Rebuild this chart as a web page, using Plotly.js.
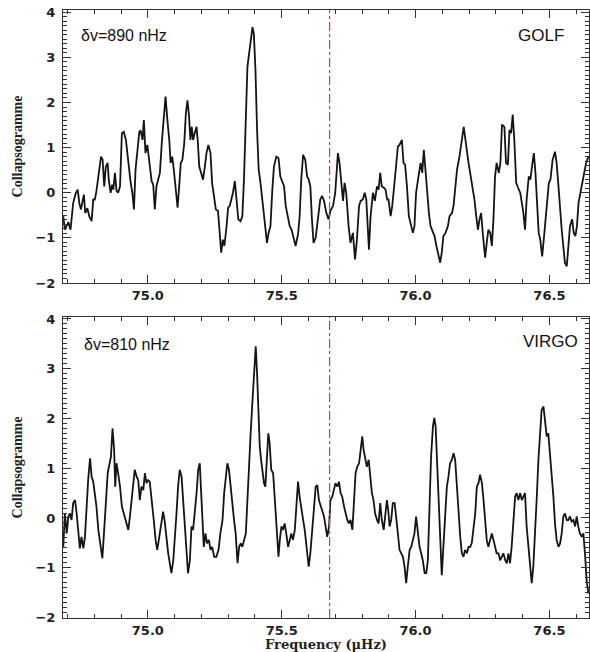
<!DOCTYPE html>
<html>
<head>
<meta charset="utf-8">
<script src="https://cdn.plot.ly/plotly-3.0.1.min.js"></script>
<style>html,body{margin:0;padding:0;background:#fff;}#chart{width:590px;height:652px;}</style>
</head>
<body>
<div id="chart"></div>
<script>
// ---- data ----
const golfFreq = [74.684,74.690,74.703,74.711,74.721,74.731,74.738,74.744,74.750,74.756,74.761,74.766,74.774,74.781,74.790,74.796,74.802,74.808,74.816,74.825,74.831,74.837,74.843,74.850,74.854,74.861,74.867,74.871,74.877,74.883,74.889,74.896,74.903,74.910,74.918,74.927,74.935,74.942,74.948,74.954,74.960,74.968,74.973,74.980,74.985,74.991,74.998,75.005,75.014,75.020,75.026,75.032,75.039,75.045,75.052,75.060,75.066,75.073,75.080,75.085,75.091,75.097,75.104,75.111,75.117,75.123,75.129,75.136,75.142,75.148,75.154,75.159,75.164,75.169,75.175,75.182,75.187,75.192,75.199,75.206,75.213,75.219,75.226,75.234,75.240,75.246,75.254,75.262,75.269,75.274,75.280,75.286,75.294,75.300,75.306,75.313,75.318,75.325,75.331,75.338,75.346,75.353,75.359,75.366,75.372,75.378,75.386,75.391,75.396,75.402,75.408,75.414,75.420,75.427,75.433,75.439,75.445,75.451,75.458,75.465,75.471,75.480,75.488,75.495,75.502,75.509,75.515,75.524,75.530,75.537,75.552,75.561,75.567,75.573,75.580,75.588,75.595,75.601,75.607,75.613,75.619,75.627,75.636,75.644,75.651,75.658,75.667,75.675,75.682,75.692,75.700,75.710,75.716,75.723,75.729,75.735,75.741,75.750,75.757,75.766,75.774,75.781,75.789,75.795,75.803,75.810,75.816,75.826,75.832,75.841,75.848,75.856,75.862,75.868,75.874,75.882,75.888,75.894,75.899,75.907,75.913,75.922,75.928,75.934,75.940,75.949,75.955,75.961,75.968,75.975,75.984,75.990,75.996,76.002,76.011,76.019,76.025,76.031,76.037,76.044,76.050,76.056,76.062,76.071,76.078,76.086,76.092,76.098,76.104,76.112,76.121,76.127,76.136,76.142,76.149,76.155,76.164,76.173,76.180,76.185,76.192,76.198,76.204,76.211,76.220,76.226,76.233,76.239,76.245,76.251,76.260,76.266,76.272,76.279,76.285,76.291,76.297,76.303,76.311,76.317,76.323,76.332,76.338,76.345,76.351,76.357,76.363,76.369,76.376,76.383,76.391,76.397,76.403,76.409,76.415,76.423,76.429,76.435,76.442,76.448,76.454,76.460,76.466,76.473,76.479,76.485,76.491,76.498,76.504,76.512,76.521,76.527,76.534,76.540,76.546,76.552,76.558,76.565,76.571,76.577,76.585,76.591,76.597,76.603,76.609,76.616,76.622,76.631,76.637,76.646];
const golfValue = [-0.52,-0.82,-0.65,-0.82,-0.23,0.00,0.07,-0.23,-0.37,-0.18,-0.04,-0.45,-0.34,-0.52,-0.63,-0.15,-0.15,0.04,0.44,0.80,0.73,0.14,0.58,0.66,0.29,0.00,0.18,0.07,0.44,0.04,0.00,0.14,1.32,1.35,1.17,0.66,0.26,0.00,-0.37,0.51,0.88,1.35,1.38,1.17,1.61,0.88,1.06,0.73,0.26,0.18,-0.37,0.14,0.29,0.44,1.10,1.68,2.13,1.61,1.17,0.66,0.80,0.51,0.14,-0.33,0.14,0.66,0.73,1.10,1.76,2.05,1.68,1.17,1.46,1.17,1.32,1.46,1.10,0.58,0.44,0.29,0.58,0.88,1.06,0.88,0.22,-0.07,-0.37,-0.40,-0.89,-1.33,-1.04,-1.18,-0.74,-0.33,-0.29,-0.15,0.00,0.26,-0.15,-0.59,-0.63,-0.52,0.29,1.68,2.79,3.08,3.45,3.67,3.52,2.72,1.39,0.51,0.26,-0.15,-0.52,-0.89,-1.11,-0.89,-0.74,0.07,0.58,0.80,0.77,0.36,0.26,0.14,-0.29,-0.59,-0.74,-0.82,-1.18,-0.92,-0.52,0.29,0.84,0.73,0.36,0.29,0.14,-0.59,-1.11,-1.00,-0.59,-0.15,-0.07,-0.18,-0.45,-0.59,-0.40,-0.29,0.00,0.88,0.66,0.14,-0.18,0.22,0.00,-0.74,-1.11,-0.89,-1.48,-1.04,-0.29,-0.18,-0.15,0.00,-0.15,-1.26,-0.52,0.00,-0.18,0.14,0.07,0.44,0.14,0.11,0.07,-0.15,-0.15,-0.52,-0.29,0.26,0.66,1.02,1.06,1.17,0.66,0.62,0.14,-0.52,-0.74,-0.89,-0.74,0.00,0.36,0.66,0.44,0.95,0.51,-0.15,-0.45,-0.74,-0.82,-0.96,-1.18,-1.41,-1.55,-1.33,-0.96,-0.89,-0.74,-0.52,-0.45,-0.29,0.07,0.51,0.80,1.17,1.46,1.24,0.88,0.66,0.44,0.22,-0.15,-0.48,-0.82,-0.59,-0.45,-0.89,-1.44,-1.11,-0.82,-0.89,-1.18,-0.59,0.36,0.66,0.44,0.66,1.51,1.46,0.66,0.62,1.39,1.32,1.73,1.17,0.22,0.11,0.00,-0.22,-0.45,-0.82,-0.15,0.36,0.29,0.58,0.88,0.44,-0.22,-0.89,-1.04,-1.41,-1.04,-0.59,-0.29,0.22,0.29,0.73,0.91,0.66,0.14,-0.45,-0.82,-1.18,-1.55,-1.63,-1.11,-0.74,-0.59,-0.89,-0.96,-0.74,-0.22,0.00,0.22,0.44,0.66,0.80];

const virgoFreq = [74.684,74.690,74.697,74.703,74.709,74.715,74.721,74.728,74.734,74.740,74.746,74.752,74.759,74.765,74.771,74.777,74.784,74.790,74.796,74.802,74.808,74.815,74.821,74.830,74.836,74.843,74.850,74.856,74.862,74.868,74.874,74.878,74.883,74.889,74.896,74.903,74.910,74.918,74.927,74.933,74.939,74.945,74.951,74.958,74.964,74.970,74.976,74.983,74.989,74.995,75.001,75.007,75.015,75.022,75.029,75.035,75.041,75.049,75.057,75.063,75.070,75.076,75.082,75.088,75.095,75.101,75.107,75.113,75.119,75.126,75.132,75.138,75.144,75.150,75.157,75.163,75.169,75.175,75.182,75.188,75.194,75.198,75.203,75.209,75.215,75.221,75.228,75.234,75.240,75.248,75.256,75.264,75.271,75.279,75.285,75.291,75.297,75.303,75.310,75.316,75.322,75.328,75.335,75.341,75.347,75.353,75.359,75.366,75.372,75.378,75.384,75.391,75.397,75.403,75.408,75.413,75.418,75.423,75.428,75.434,75.439,75.444,75.450,75.455,75.461,75.468,75.474,75.480,75.488,75.493,75.499,75.505,75.511,75.517,75.524,75.536,75.542,75.549,75.555,75.561,75.567,75.573,75.580,75.586,75.592,75.601,75.607,75.613,75.619,75.627,75.633,75.639,75.646,75.652,75.658,75.664,75.670,75.677,75.682,75.689,75.695,75.701,75.708,75.714,75.720,75.726,75.733,75.739,75.745,75.751,75.757,75.764,75.770,75.776,75.782,75.789,75.795,75.801,75.806,75.812,75.818,75.825,75.831,75.837,75.843,75.849,75.856,75.862,75.868,75.874,75.881,75.887,75.893,75.898,75.903,75.909,75.915,75.922,75.928,75.934,75.940,75.947,75.953,75.959,75.965,75.971,75.978,75.984,75.990,75.996,76.002,76.009,76.015,76.021,76.027,76.034,76.040,76.046,76.052,76.058,76.065,76.070,76.075,76.081,76.087,76.093,76.098,76.104,76.111,76.117,76.123,76.129,76.136,76.142,76.148,76.154,76.160,76.167,76.173,76.179,76.185,76.192,76.198,76.204,76.210,76.216,76.223,76.229,76.235,76.241,76.248,76.254,76.260,76.266,76.272,76.279,76.285,76.291,76.297,76.303,76.310,76.316,76.322,76.328,76.335,76.341,76.347,76.353,76.359,76.366,76.372,76.378,76.384,76.391,76.397,76.403,76.409,76.415,76.422,76.428,76.434,76.440,76.447,76.453,76.459,76.465,76.471,76.478,76.484,76.490,76.496,76.502,76.509,76.515,76.521,76.527,76.534,76.540,76.546,76.552,76.558,76.565,76.571,76.577,76.583,76.590,76.596,76.602,76.608,76.614,76.621,76.627,76.633,76.639,76.646];
const virgoValue = [-0.58,0.09,-0.31,0.03,0.09,-0.04,0.30,0.36,0.09,-0.31,-0.61,-0.38,-0.61,-0.38,0.23,0.76,1.20,0.83,0.73,0.50,0.23,-0.24,-0.44,-0.81,-0.31,0.30,0.90,1.07,1.23,1.80,1.37,0.63,1.10,0.90,0.63,0.23,0.09,-0.04,-0.24,0.03,0.36,0.63,0.97,0.83,0.76,0.36,0.63,0.56,0.90,0.70,0.76,0.73,0.36,-0.04,-0.44,-0.64,-0.44,-0.17,0.13,-0.07,-0.44,-0.71,-0.91,-1.11,-0.85,-0.44,0.09,0.63,0.97,0.83,0.36,-0.17,-0.78,-1.11,-0.85,-0.17,-0.24,0.09,0.50,0.97,1.10,0.63,0.09,-0.58,-0.31,-0.51,-0.44,-0.64,-0.58,-0.78,-0.78,-0.64,-0.31,-0.04,0.50,0.83,1.10,0.97,0.56,0.23,-0.04,-0.31,-0.91,-0.58,-0.51,-0.58,-0.44,-0.31,0.36,1.17,1.70,2.37,2.91,3.45,2.91,2.11,1.44,1.17,0.90,0.70,0.63,1.23,1.70,1.50,0.97,0.90,0.36,-0.17,-0.78,-0.44,-0.17,-0.24,-0.11,-0.31,-0.58,-0.31,-0.44,-0.24,0.23,0.73,0.43,0.16,-0.04,-0.24,-0.58,-0.98,-0.71,-0.24,0.09,0.63,0.66,0.36,0.23,0.16,0.03,-0.17,-0.38,-0.17,0.36,0.43,0.56,0.70,0.63,0.73,0.50,0.43,0.23,0.09,-0.04,-0.11,-0.04,-0.24,0.36,0.90,1.03,1.10,1.37,1.64,1.37,1.23,1.03,1.17,0.83,0.50,0.36,0.09,-0.04,-0.11,0.30,-0.04,-0.24,0.09,0.36,0.16,-0.17,-0.04,0.30,0.30,0.03,-0.31,-0.64,-0.71,-0.78,-0.98,-1.31,-0.98,-0.64,-0.58,-0.44,-0.31,0.03,-0.31,-0.58,-0.71,-0.85,-1.11,-1.11,-0.85,0.16,1.23,1.84,2.01,1.84,1.03,-0.04,-0.85,-1.15,-0.58,0.09,0.63,0.83,1.10,1.17,1.30,1.17,0.63,0.03,-0.38,-0.71,-0.78,-0.64,-0.71,-0.58,-0.58,-0.51,-0.24,0.09,0.63,0.70,0.87,0.70,0.36,-0.04,-0.44,-0.58,-0.44,-0.31,-0.44,-0.58,-0.71,-0.71,-0.85,-0.78,-0.71,-0.85,-0.91,-0.71,-0.91,-0.58,-0.11,0.43,0.50,0.36,0.50,0.36,0.43,0.50,-0.17,-0.64,-0.98,-1.31,-0.98,-0.31,0.43,1.17,1.70,2.17,2.24,1.90,1.64,1.70,1.30,0.90,0.43,-0.11,-0.44,-0.58,-0.51,-0.31,0.03,0.09,-0.04,-0.04,0.03,-0.07,-0.04,-0.17,0.03,-0.17,-0.31,-0.38,-0.31,-0.71,-1.25,-1.52];

const markerFreq = 75.679;
const xRange = [74.683, 76.648];
const golfLabel = 'GOLF';
const virgoLabel = 'VIRGO';
const golfSpacing = 'δv=890 nHz';
const virgoSpacing = 'δv=810 nHz';
const yTitle = 'Collapsogramme';
const xTitle = 'Frequency (μHz)';

// ---- styling ----
const tickFont = {family: 'DejaVu Sans', size: 13, color: '#222', weight: 'bold'};
const lineCol = '#333';
function xAxis(anchor, showTitle) {
  const ax = {
    domain: [0, 1], anchor: anchor, range: xRange, autorange: false,
    tickmode: 'linear', tick0: 75, dtick: 0.5, tickformat: '.1f',
    ticks: 'inside', ticklen: 8, tickwidth: 1, tickcolor: lineCol,
    minor: {tickmode: 'linear', tick0: 75, dtick: 0.1, ticks: 'inside', ticklen: 4, tickwidth: 1, tickcolor: lineCol, showgrid: false},
    showline: true, linecolor: lineCol, linewidth: 1, mirror: 'allticks',
    showgrid: false, zeroline: false, tickfont: tickFont, automargin: false
  };
  if (showTitle) {
    ax.title = {text: xTitle, font: {family: 'DejaVu Serif', size: 13, color: '#222', weight: 'bold'}, standoff: 0};
  }
  return ax;
}
function yAxis(anchor, domain, range) {
  return {
    domain: domain, anchor: anchor, range: range, autorange: false,
    tickmode: 'linear', tick0: 0, dtick: 1,
    ticks: 'inside', ticklen: 8, tickwidth: 1, tickcolor: lineCol,
    minor: {tickmode: 'linear', tick0: 0, dtick: 0.1, ticks: 'inside', ticklen: 4, tickwidth: 1, tickcolor: lineCol, showgrid: false},
    showline: true, linecolor: lineCol, linewidth: 1, mirror: 'allticks',
    showgrid: false, zeroline: false, tickfont: tickFont, automargin: false,
    ticklabelstandoff: 4,
    title: {text: yTitle, font: {family: 'Liberation Serif', size: 14, color: '#222', weight: 'bold'}, standoff: 9}
  };
}

const traces = [
  {x: golfFreq, y: golfValue, xaxis: 'x', yaxis: 'y', type: 'scatter', mode: 'lines',
   line: {color: '#141414', width: 1.8}},
  {x: virgoFreq, y: virgoValue, xaxis: 'x2', yaxis: 'y2', type: 'scatter', mode: 'lines',
   line: {color: '#141414', width: 1.8}}
];

const redDash = {color: '#e03a3a', width: 1.2, dash: 'dashdot'};

const layout = {
  width: 590, height: 652,
  margin: {l: 63, r: 1, t: 10, b: 34, pad: 0},
  showlegend: false,
  xaxis: xAxis('y', false),
  yaxis: yAxis('x', [0.551, 1], [-2.0, 4.05]),
  xaxis2: xAxis('y2', true),
  yaxis2: yAxis('x2', [0, 0.4951], [-2.01, 4.04]),
  shapes: [
    {type: 'line', xref: 'x', yref: 'y domain', x0: markerFreq, x1: markerFreq, y0: 0, y1: 1, line: redDash},
    {type: 'line', xref: 'x2', yref: 'y2 domain', x0: markerFreq, x1: markerFreq, y0: 0, y1: 1, line: redDash}
  ],
  annotations: [
    {text: golfSpacing, xref: 'paper', yref: 'y domain', x: 0.030, y: 0.908, xanchor: 'left', yanchor: 'middle', showarrow: false,
     font: {family: 'Liberation Sans', size: 16, color: '#111'}},
    {text: golfLabel, xref: 'paper', yref: 'y domain', x: 0.956, y: 0.905, xanchor: 'right', yanchor: 'middle', showarrow: false,
     font: {family: 'Liberation Sans', size: 17, color: '#111'}},
    {text: virgoSpacing, xref: 'paper', yref: 'y2 domain', x: 0.036, y: 0.907, xanchor: 'left', yanchor: 'middle', showarrow: false,
     font: {family: 'Liberation Sans', size: 16, color: '#111'}},
    {text: virgoLabel, xref: 'paper', yref: 'y2 domain', x: 0.983, y: 0.917, xanchor: 'right', yanchor: 'middle', showarrow: false,
     font: {family: 'Liberation Sans', size: 17, color: '#111'}}
  ]
};

Plotly.newPlot('chart', traces, layout, {staticPlot: true});
</script>
</body>
</html>
